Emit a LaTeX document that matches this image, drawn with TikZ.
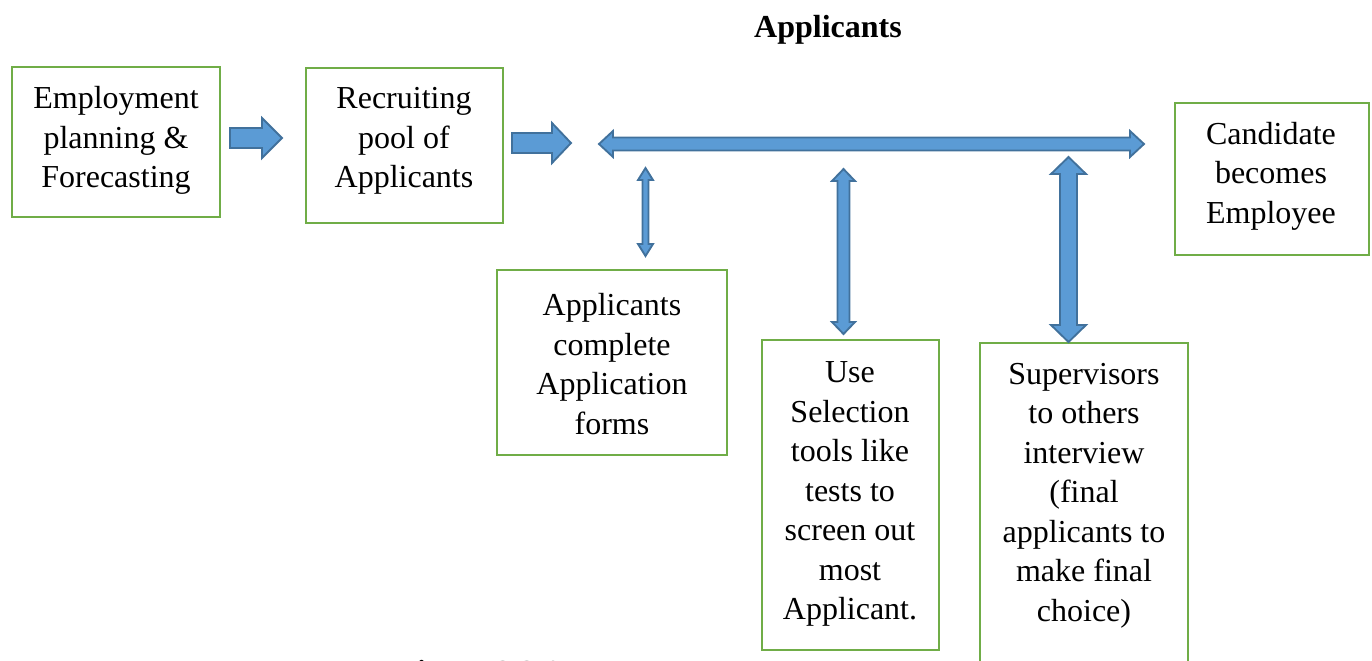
\documentclass[tikz,border=0pt]{standalone}
\usepackage{fontspec}
\setmainfont{Liberation Serif}
\definecolor{boxgreen}{RGB}{112,173,71}
\definecolor{arrowblue}{RGB}{91,155,213}
\definecolor{arrowedge}{RGB}{65,113,156}
\begin{document}
\begin{tikzpicture}[x=0.375pt,y=-0.375pt,
  box/.style={draw=boxgreen, line width=1pt, inner sep=0pt},
  txt/.style={align=center, font=\fontsize{12}{14.8}\selectfont, inner sep=0pt},
  blockarrow/.style={fill=arrowblue, draw=arrowedge, line width=0.7pt, line join=miter}]
\clip (0,0) rectangle (1372,660);

% title and caption
\node[txt, font=\fontsize{12}{14.8}\selectfont\bfseries] (title) at (828,30) {Applicants};
\node[txt, font=\fontsize{12}{14.8}\selectfont\bfseries, anchor=base west] (caption) at (397,682) {Figure 2.2.1};

% process boxes
\node[box, minimum width=208*0.375pt, minimum height=150*0.375pt] (emp) at (116,142) {};
\node[txt] (empt) at (116,140.5) {Employment\\planning \&\\Forecasting};

\node[box, minimum width=197*0.375pt, minimum height=155*0.375pt] (rec) at (404.5,145.5) {};
\node[txt] (rect) at (404,141) {Recruiting\\pool of\\Applicants};

\node[box, minimum width=230*0.375pt, minimum height=185*0.375pt] (app) at (612,362.5) {};
\node[txt] (appt) at (612,364) {Applicants\\complete\\Application\\forms};

\node[box, minimum width=177*0.375pt, minimum height=310*0.375pt] (sel) at (850.5,495) {};
\node[txt] (selt) at (850,494) {Use\\Selection\\tools like\\tests to\\screen out\\most\\Applicant.};

\node[box, minimum width=208*0.375pt, minimum height=357*0.375pt] (sup) at (1084,521.5) {};
\node[txt] (supt) at (1084,495.5) {Supervisors\\to others\\interview\\(final\\applicants to\\make final\\choice)};

\node[box, minimum width=194*0.375pt, minimum height=152*0.375pt] (cand) at (1272,179) {};
\node[txt] (candt) at (1271,176) {Candidate\\becomes\\Employee};

% block arrows
\draw[blockarrow] (230,128) -- (262,128) -- (262,118) -- (282,138) -- (262,158) -- (262,148) -- (230,148) -- cycle;
\draw[blockarrow] (512,133) -- (552,133) -- (552,123) -- (571,143) -- (552,163) -- (552,153) -- (512,153) -- cycle;
\draw[blockarrow] (599,144) -- (613,131) -- (613,137.5) -- (1130,137.5) -- (1130,131) -- (1144,144) -- (1130,157) -- (1130,150.5) -- (613,150.5) -- (613,157) -- cycle;
\draw[blockarrow] (645.5,168) -- (653,180) -- (648.5,180) -- (648.5,244) -- (653,244) -- (645.5,256) -- (638,244) -- (642.5,244) -- (642.5,180) -- (638,180) -- cycle;
\draw[blockarrow] (843.5,169) -- (855,181) -- (849.5,181) -- (849.5,322) -- (855,322) -- (843.5,334) -- (832,322) -- (837.5,322) -- (837.5,181) -- (832,181) -- cycle;
\draw[blockarrow] (1068.5,157) -- (1086,174) -- (1077,174) -- (1077,325) -- (1086,325) -- (1068.5,342) -- (1051,325) -- (1060,325) -- (1060,174) -- (1051,174) -- cycle;
\end{tikzpicture}
\end{document}
